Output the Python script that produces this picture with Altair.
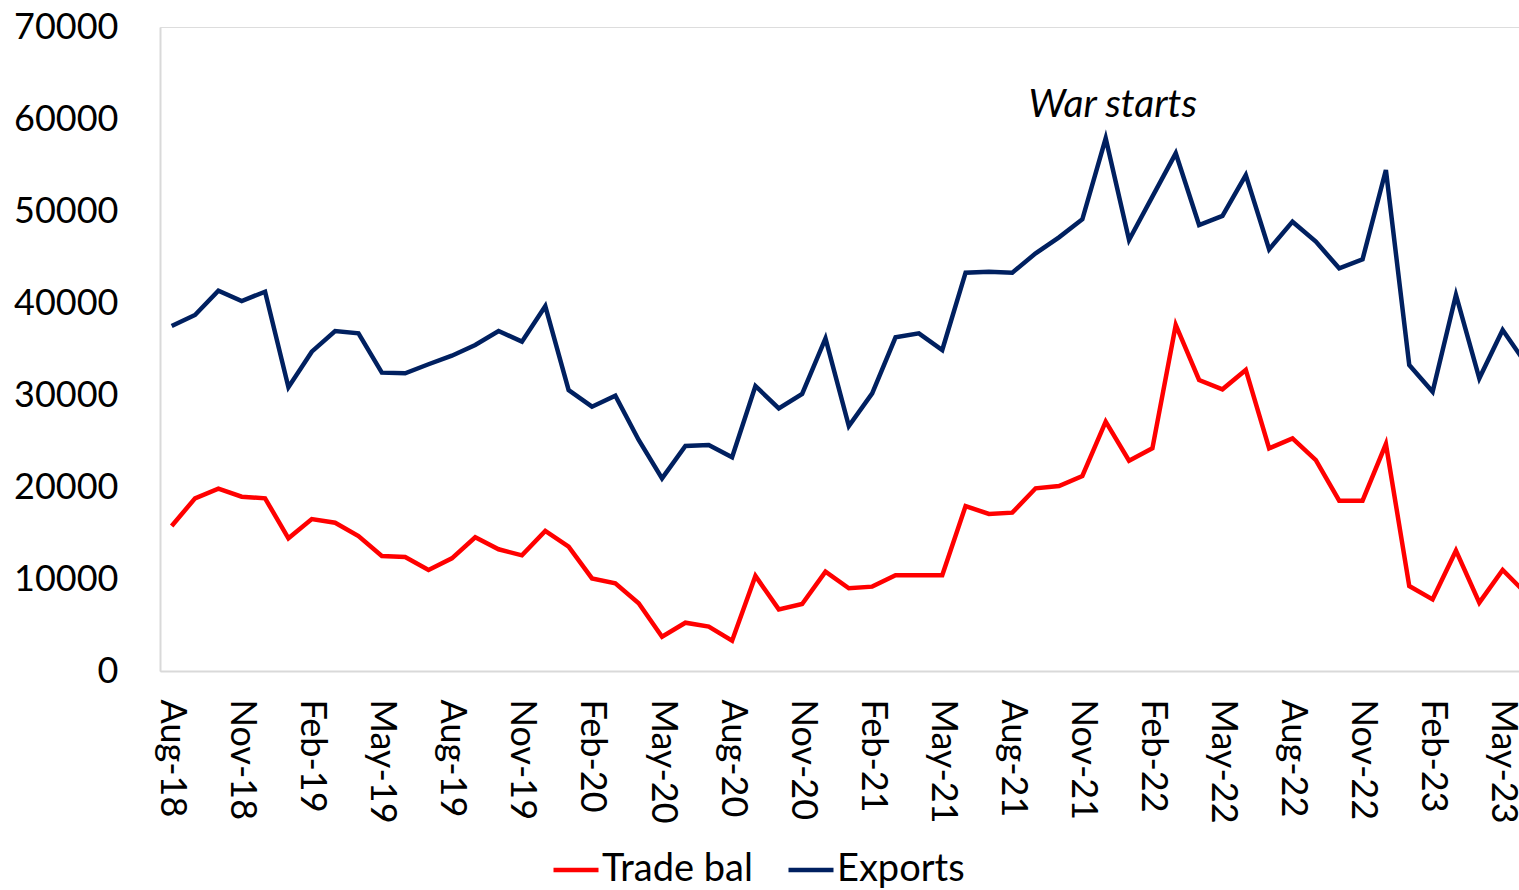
import altair as alt
import pandas as pd

months = ["Aug-18","Sep-18","Oct-18","Nov-18","Dec-18",
          "Jan-19","Feb-19","Mar-19","Apr-19","May-19","Jun-19","Jul-19","Aug-19","Sep-19","Oct-19","Nov-19","Dec-19",
          "Jan-20","Feb-20","Mar-20","Apr-20","May-20","Jun-20","Jul-20","Aug-20","Sep-20","Oct-20","Nov-20","Dec-20",
          "Jan-21","Feb-21","Mar-21","Apr-21","May-21","Jun-21","Jul-21","Aug-21","Sep-21","Oct-21","Nov-21","Dec-21",
          "Jan-22","Feb-22","Mar-22","Apr-22","May-22","Jun-22","Jul-22","Aug-22","Sep-22","Oct-22","Nov-22","Dec-22",
          "Jan-23","Feb-23","Mar-23","Apr-23","May-23","Jun-23"]

exports = [37500, 38700, 41340, 40220, 41230,
           30840, 34710, 36960, 36700, 32430, 32360, 33340, 34270, 35440, 36960, 35800, 39650,
           30540, 28730, 29930, 25110, 20940, 24460, 24570, 23230, 30980, 28550, 30110, 36160,
           26630, 30180, 36270, 36700, 34890, 43300, 43400, 43300, 45400, 47140, 49100, 57900,
           46850, 51560, 56270, 48480, 49460, 53910, 45830, 48840, 46670, 43770, 44750, 54460,
           33260, 30360, 40870, 31810, 37070, 33400]

trade_bal = [15760, 18770, 19820, 18950, 18770,
             14420, 16520, 16120, 14670, 12500, 12390, 10980, 12250, 14530, 13230, 12570, 15220,
             13510, 10070, 9530, 7360, 3730, 5250, 4820, 3300, 10330, 6700, 7280, 10800,
             8990, 9170, 10400, 10400, 10400, 17930, 17070, 17210, 19860, 20110, 21200, 27100,
             22860, 24200, 37610, 31630, 30620, 32720, 24200, 25290, 22930, 18510, 18510, 24670,
             9240, 7790, 13080, 7430, 10980, 8430]

tick_idx = list(range(0, 58, 3))
y_ticks = [0, 10000, 20000, 30000, 40000, 50000, 60000, 70000]

series_names = ["Trade bal", "Exports"]
series_colors = ["#FF0000", "#002060"]

rows = []
for i, m in enumerate(months):
    rows.append({"idx": i, "month": m, "series": "Trade bal", "value": trade_bal[i]})
    rows.append({"idx": i, "month": m, "series": "Exports", "value": exports[i]})
df = pd.DataFrame(rows)

ann = pd.DataFrame({"idx": [40.3], "value": [61500], "text": ["War starts"]})

label_arr = "[" + ",".join("'" + m + "'" for m in months) + "]"

FONT = "Lato"

x_enc = alt.X("idx:Q",
              scale=alt.Scale(domain=[-0.5, 57.7], nice=False, zero=False),
              axis=alt.Axis(values=tick_idx, labelExpr=label_arr + "[datum.value]",
                            labelAngle=90, labelPadding=28, ticks=False, grid=False,
                            domainColor="#D9D9D9", domainWidth=2,
                            labelFont=FONT, labelFontSize=36, labelColor="#000000",
                            labelOverlap=False, labelFlush=False, title=None))
y_enc = alt.Y("value:Q",
              scale=alt.Scale(domain=[0, 70000], nice=False),
              axis=alt.Axis(values=y_ticks, format="d", ticks=False, grid=False,
                            domainColor="#D9D9D9", domainWidth=2, labelPadding=42,
                            labelFont=FONT, labelFontSize=36, labelColor="#000000",
                            title=None))

lines = alt.Chart(df).mark_line(strokeWidth=4.5, clip=True).encode(
    x=x_enc,
    y=y_enc,
    color=alt.Color("series:N",
                    scale=alt.Scale(domain=series_names, range=series_colors),
                    sort=series_names,
                    legend=alt.Legend(title=None, orient="none", legendX=391, legendY=818,
                                      direction="horizontal", symbolType="stroke",
                                      symbolSize=2025, symbolStrokeWidth=4.5,
                                      labelFont=FONT, labelFontSize=38, labelColor="#000000",
                                      labelOffset=1, columnPadding=26)),
    order="idx:Q",
)

text = alt.Chart(ann).mark_text(font=FONT, fontSize=39, fontStyle="italic",
                                color="#000000", align="center", baseline="middle").encode(
    x=alt.X("idx:Q"), y=alt.Y("value:Q"), text="text:N")

chart = alt.layer(lines, text).properties(
    width=1359, height=644,
    autosize=alt.AutoSizeParams(type="none"),
    padding={"left": 160, "top": 27, "right": 0, "bottom": 219},
).configure_view(stroke=None).configure(background="white")

chart.save("out.html", embed_options={"renderer": "svg", "actions": False})
